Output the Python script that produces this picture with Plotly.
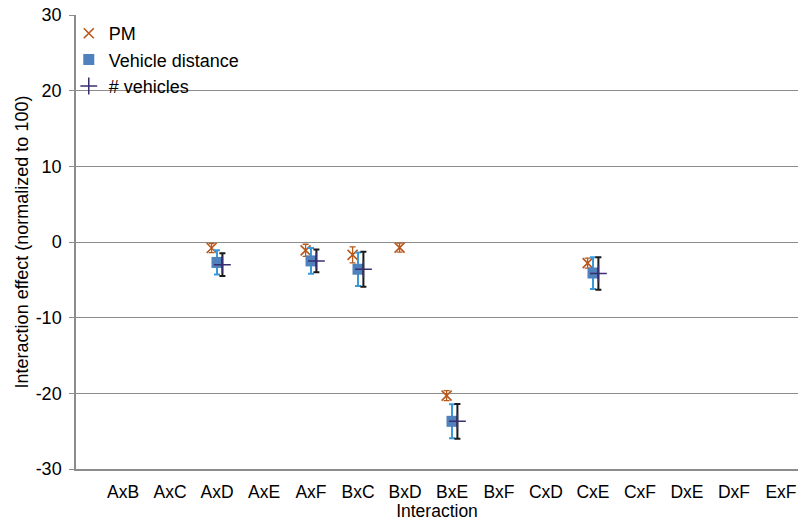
import plotly.graph_objects as go

categories = ["AxB", "AxC", "AxD", "AxE", "AxF", "BxC", "BxD", "BxE",
              "BxF", "CxD", "CxE", "CxF", "DxE", "DxF", "ExF"]

pm = [None, None, -0.8, None, -1.1, -1.7, -0.75, -20.3, None, None, -2.8, None, None, None, None]
pm_err = [None, None, 0.6, None, 0.8, 1.05, 0.6, 0.66, None, None, 0.66, None, None, None, None]

vehicle_distance = [None, None, -2.7, None, -2.5, -3.6, None, -23.7, None, None, -4.1, None, None, None, None]
vehicle_distance_err = [None, None, 1.6, None, 1.7, 2.2, None, 2.25, None, None, 2.1, None, None, None, None]

n_vehicles = [None, None, -3.0, None, -2.5, -3.6, None, -23.7, None, None, -4.15, None, None, None, None]
n_vehicles_err = [None, None, 1.5, None, 1.5, 2.3, None, 2.3, None, None, 2.15, None, None, None, None]

y_ticks = [-30, -20, -10, 0, 10, 20, 30]
y_tick_labels = ["-30", "-20", "-10", "0", "10", "20", "30"]

FONT = "Liberation Sans, Arial, sans-serif"
pos = list(range(1, len(categories) + 1))
off = 0.115

fig = go.Figure()
fig.add_trace(go.Scatter(
    x=[p - off for p in pos], y=pm, mode="markers", name="PM",
    marker=dict(symbol="x-thin-open", size=10, color="#B8581C",
                line=dict(color="#B8581C", width=1.6)),
    error_y=dict(type="data", array=pm_err, visible=True, color="#B8581C",
                 thickness=1.3, width=3),
))
fig.add_trace(go.Scatter(
    x=pos, y=vehicle_distance, mode="markers", name="Vehicle distance",
    marker=dict(symbol="square", size=11, color="#4F81BD"),
    error_y=dict(type="data", array=vehicle_distance_err, visible=True,
                 color="#3A9AD9", thickness=2, width=3),
))
fig.add_trace(go.Scatter(
    x=[p + off for p in pos], y=n_vehicles, mode="markers", name="# vehicles",
    marker=dict(symbol="cross-thin-open", size=12, color="#3A2F6E",
                line=dict(color="#3A2F6E", width=1.5)),
    error_y=dict(type="data", array=n_vehicles_err, visible=True,
                 color="#1A1A1A", thickness=2, width=3),
))

plot_w = 798 - 76
px_per_unit = 47.0

fig.update_layout(
    width=798, height=521,
    margin=dict(l=76, r=0, t=15, b=52),
    paper_bgcolor="white", plot_bgcolor="white",
    font=dict(family=FONT, size=17, color="black"),
    showlegend=True,
    legend=dict(x=-0.01, y=1.0, xanchor="left", yanchor="top",
                bgcolor="rgba(0,0,0,0)", font=dict(size=18, family=FONT),
                itemwidth=30, tracegroupgap=0),
    xaxis=dict(
        range=[0, plot_w / px_per_unit],
        tickmode="array", tickvals=pos, ticktext=categories,
        showgrid=False, zeroline=False,
        showline=True, linecolor="#8C8C8C", linewidth=1.5,
        ticks="", tickfont=dict(size=17.5, family=FONT),
        ticklabelstandoff=6,
        title=dict(text="Interaction", font=dict(size=17.5, family=FONT), standoff=2),
    ),
    yaxis=dict(
        range=[-30, 30], tickmode="array", tickvals=y_ticks, ticktext=y_tick_labels,
        showgrid=True, gridcolor="#8C8C8C", gridwidth=1.2,
        zeroline=False, showline=True, linecolor="#8C8C8C", linewidth=1.5,
        ticks="outside", ticklen=5, tickcolor="#8C8C8C",
        tickfont=dict(size=18, family=FONT), ticklabelstandoff=4,
        title=dict(text="Interaction effect (normalized to 100)",
                   font=dict(size=18, family=FONT), standoff=2),
    ),
)

fig.write_html("out.html")
